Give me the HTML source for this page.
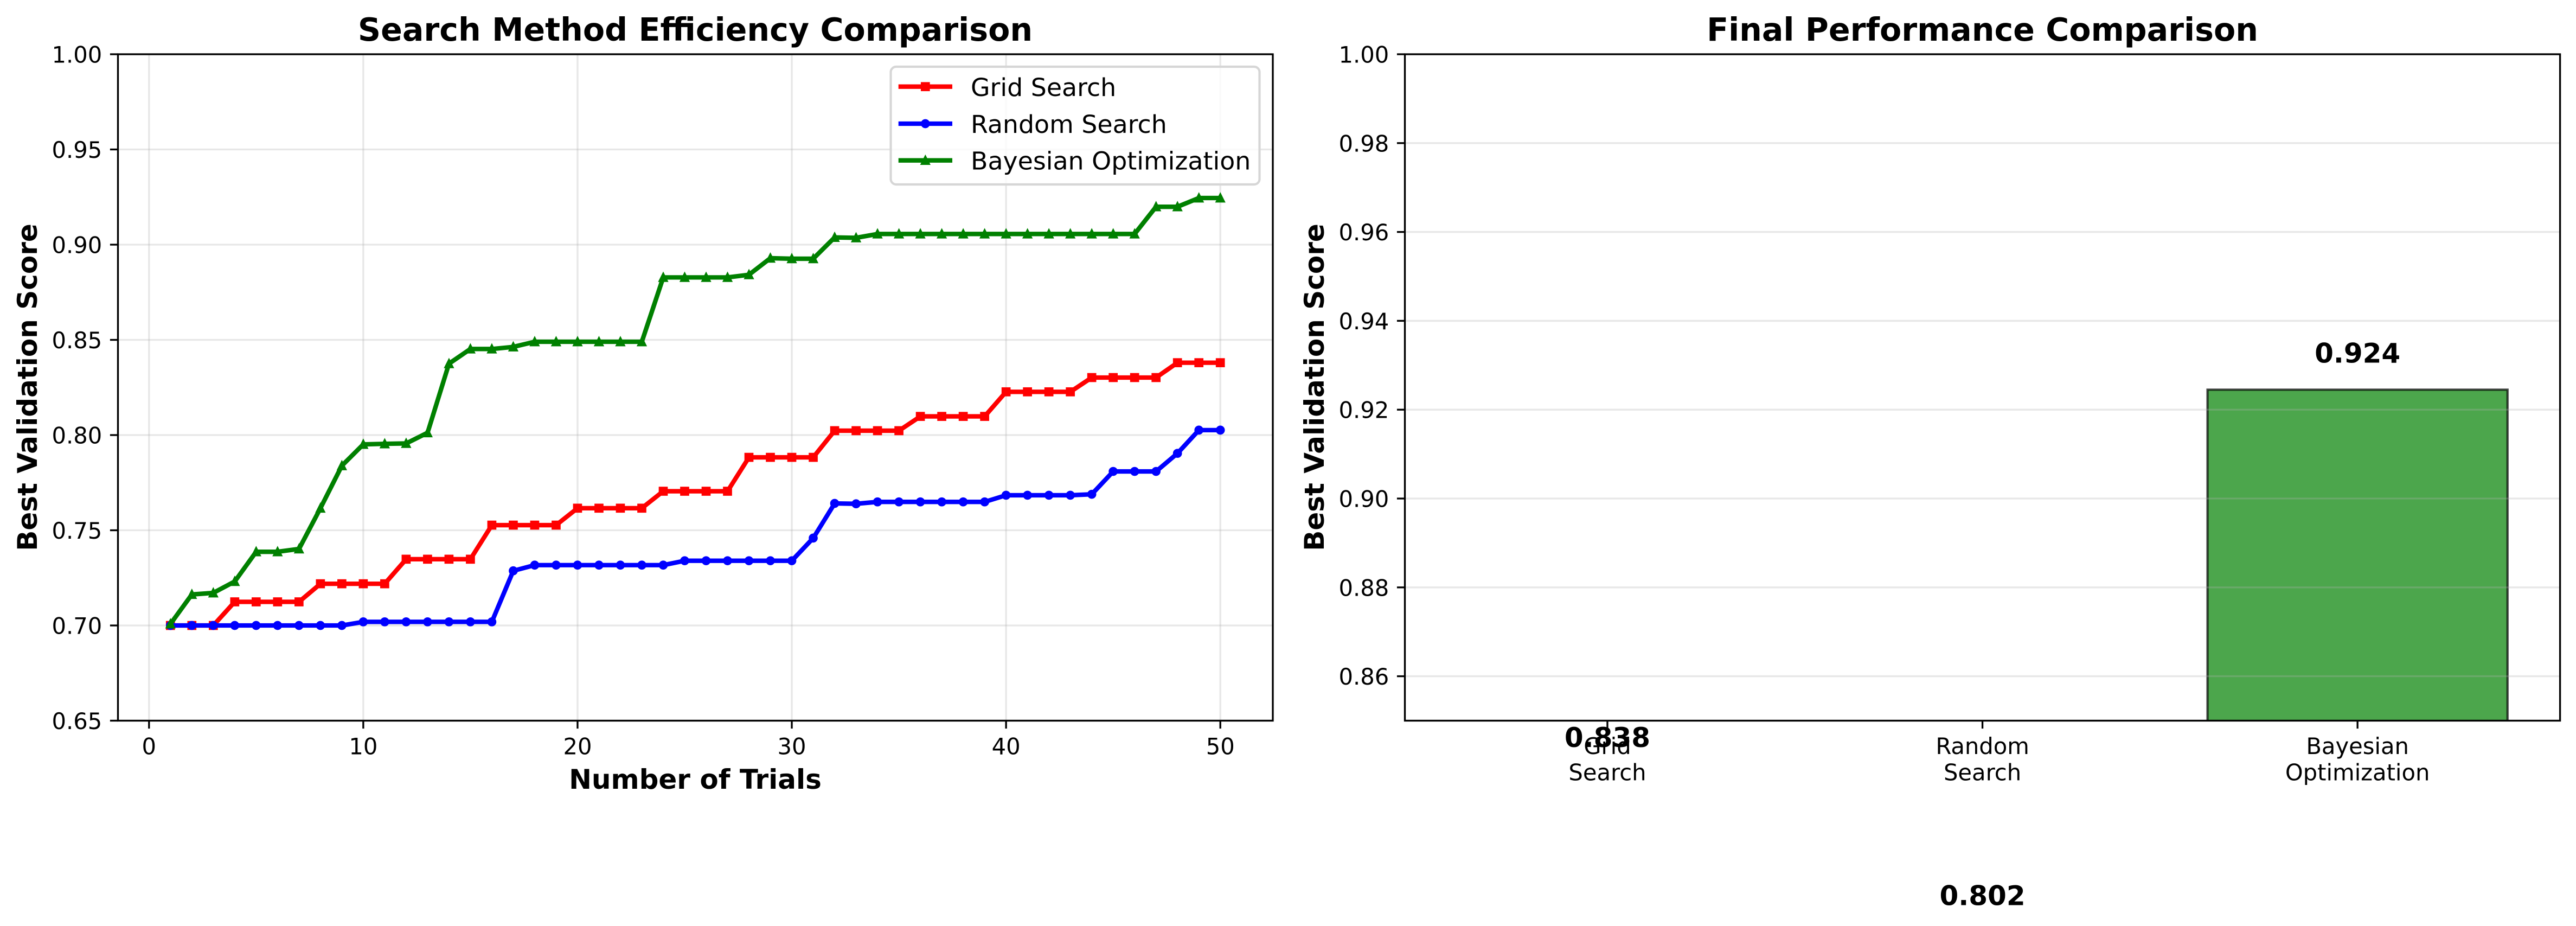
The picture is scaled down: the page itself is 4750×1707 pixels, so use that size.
<!DOCTYPE html>
<html lang="en">
<head>
<meta charset="utf-8">
<title>Search Method Comparison</title>
<style>
html,body{margin:0;padding:0;background:#fff;width:4750px;height:1707px;overflow:hidden}
svg{display:block}
text{font-family:"DejaVu Sans","Liberation Sans",sans-serif;fill:#000}
.tick{font-size:41.67px}
.title{font-size:58.6px;font-weight:bold;text-anchor:middle}
.axis{font-size:50px;font-weight:bold;text-anchor:middle}
.legend-text{font-size:45.83px}
.value{font-size:50px;font-weight:bold;text-anchor:middle}
</style>
</head>
<body>
<svg id="chart" xmlns="http://www.w3.org/2000/svg" width="4750" height="1707" viewBox="0 0 4750 1707">
  <rect x="0" y="0" width="4750" height="1707" fill="#fff"/>
  <defs>
    <clipPath id="clip-left"><rect x="217.5" y="100" width="2129.5" height="1228.5"/></clipPath>
    <clipPath id="clip-right"><rect x="2590.5" y="100" width="2130.1" height="1228.5"/></clipPath>
  </defs>
  <g id="left-grid"></g>
  <g id="left-series" clip-path="url(#clip-left)"></g>
  <g id="left-axes"></g>
  <g id="right-bars" clip-path="url(#clip-right)"></g>
  <g id="right-grid"></g>
  <g id="right-axes"></g>
  <g id="legend">
    <rect x="1642.5" y="123" width="680" height="217" rx="10" ry="10" fill="#fff" fill-opacity="0.8" stroke="#d6d6d6" stroke-width="4.17"/>
    <text class="legend-text" x="1790" y="177">Grid Search</text>
    <text class="legend-text" x="1790" y="245">Random Search</text>
    <text class="legend-text" x="1790" y="312.5">Bayesian Optimization</text>
  </g>
  <text class="title" x="1282" y="75">Search Method Efficiency Comparison</text>
  <text class="axis" x="1282" y="1454">Number of Trials</text>
  <text class="axis" transform="translate(68,714) rotate(-90)">Best Validation Score</text>
  <text class="title" x="3655.5" y="75">Final Performance Comparison</text>
  <text class="axis" transform="translate(2441,714) rotate(-90)">Best Validation Score</text>
  <g id="value-labels"></g>
</svg>
<script>
const trials = [1,2,3,4,5,6,7,8,9,10,11,12,13,14,15,16,17,18,19,20,21,22,23,24,25,26,27,28,29,30,31,32,33,34,35,36,37,38,39,40,41,42,43,44,45,46,47,48,49,50];
const gridScores = [0.7,0.7,0.7,0.7124,0.7124,0.7124,0.7124,0.7219,0.7219,0.7219,0.7219,0.7348,0.7348,0.7348,0.7348,0.7527,0.7527,0.7527,0.7527,0.7616,0.7616,0.7616,0.7616,0.7705,0.7705,0.7705,0.7705,0.7883,0.7883,0.7883,0.7883,0.8023,0.8023,0.8023,0.8023,0.8098,0.8098,0.8098,0.8098,0.8227,0.8227,0.8227,0.8227,0.8302,0.8302,0.8302,0.8302,0.838,0.838,0.838];
const randomScores = [0.7,0.7,0.7,0.7,0.7,0.7,0.7,0.7,0.7,0.7019,0.7019,0.7019,0.7019,0.7019,0.7019,0.7019,0.7287,0.7317,0.7317,0.7317,0.7317,0.7317,0.7317,0.7317,0.734,0.734,0.734,0.734,0.734,0.734,0.7459,0.7641,0.7639,0.7649,0.7649,0.7649,0.7649,0.7649,0.7649,0.7684,0.7684,0.7684,0.7684,0.7689,0.7809,0.7809,0.7809,0.7904,0.8026,0.8026];
const bayesScores = [0.7008,0.7163,0.7171,0.7231,0.7387,0.7387,0.7402,0.7616,0.7839,0.7951,0.7954,0.7956,0.8012,0.8375,0.8452,0.8452,0.8463,0.849,0.849,0.849,0.849,0.849,0.849,0.8828,0.8828,0.8828,0.8828,0.8842,0.8929,0.8926,0.8926,0.9038,0.9036,0.9056,0.9056,0.9056,0.9056,0.9056,0.9056,0.9056,0.9056,0.9056,0.9056,0.9056,0.9056,0.9056,0.9199,0.9199,0.9245,0.9245];
const xTicks = [0,10,20,30,40,50];
const leftYTicks = [0.65,0.70,0.75,0.80,0.85,0.90,0.95,1.00];
const rightYTicks = [0.86,0.88,0.90,0.92,0.94,0.96,0.98,1.00];
const methodLines = [["Grid","Search"],["Random","Search"],["Bayesian","Optimization"]];
const finalScores = [0.838,0.8024,0.9245];
const finalLabels = ["0.838","0.802","0.924"];

const NS = 'http://www.w3.org/2000/svg';
const AX = {top:100,bottom:1328.5,lLeft:217.5,lRight:2347,rLeft:2590.5,rRight:4720.6};
const xL = v => AX.lLeft + (v + 1.45) / 53.9 * (AX.lRight - AX.lLeft);
const yL = v => AX.bottom - (v - 0.65) / 0.35 * (AX.bottom - AX.top);
const xR = v => AX.rLeft + (v + 0.54) / 3.08 * (AX.rRight - AX.rLeft);
const yR = v => AX.bottom - (v - 0.85) / 0.15 * (AX.bottom - AX.top);

function mk(tag, parent, props) {
  const el = document.createElementNS(NS, tag);
  for (const k in props) el.setAttribute(k, props[k]);
  parent.appendChild(el);
  return el;
}
function gridLine(parent, x1, y1, x2, y2, name) {
  const el = mk('line', parent, {x1, y1, x2, y2, stroke:'#b0b0b0', 'stroke-opacity':0.3, 'stroke-width':3.33});
  
  
}
function tickMark(parent, x1, y1, x2, y2, name) {
  const el = mk('line', parent, {x1, y1, x2, y2, stroke:'#000', 'stroke-width':3.33});
  
  
}
function tickText(parent, x, y, anchor, str, name) {
  const el = mk('text', parent, {x, y, 'text-anchor':anchor, class:'tick'});
  el.textContent = str;
  
  
}
function frame(parent, l, r, name) {
  const el = mk('rect', parent, {x:l, y:AX.top, width:r-l, height:AX.bottom-AX.top, fill:'none', stroke:'#000', 'stroke-width':3.33});
  
  
}
function marker(parent, kind, x, y, color) {
  const h = 6.25;
  let el;
  if (kind === 's') {
    el = mk('rect', parent, {x:x-h, y:y-h, width:2*h, height:2*h, fill:color, stroke:color, 'stroke-width':4.17});
  } else if (kind === 'o') {
    el = mk('circle', parent, {cx:x, cy:y, r:h, fill:color, stroke:color, 'stroke-width':4.17});
  } else {
    el = mk('polygon', parent, {points:(x)+','+(y-h)+' '+(x-h)+','+(y+h)+' '+(x+h)+','+(y+h), fill:color, stroke:color, 'stroke-width':4.17, 'stroke-linejoin':'miter', 'stroke-miterlimit':4});
  }
  return el;
}

/* left chart */
const leftGrid = document.getElementById('left-grid');
const leftSeries = document.getElementById('left-series');
const leftAxes = document.getElementById('left-axes');
xTicks.forEach(t => {
  gridLine(leftGrid, xL(t), AX.top, xL(t), AX.bottom, 'x-gridline');
  tickMark(leftAxes, xL(t), AX.bottom, xL(t), AX.bottom + 14.6, 'x-tick');
  tickText(leftAxes, xL(t), 1390.5, 'middle', String(t), 'x-tick-label');
});
leftYTicks.forEach(t => {
  gridLine(leftGrid, AX.lLeft, yL(t), AX.lRight, yL(t), 'y-gridline');
  tickMark(leftAxes, AX.lLeft - 14.6, yL(t), AX.lLeft, yL(t), 'y-tick');
  tickText(leftAxes, AX.lLeft - 29.2, yL(t) + 15.5, 'end', t.toFixed(2), 'y-tick-label');
});
frame(leftAxes, AX.lLeft, AX.lRight, 'efficiency-plot-frame');

function drawSeries(values, color, kind, seriesName) {
  const g = mk('g', leftSeries, {});
  
  
  const line = mk('polyline', g, {
    points: values.map((v, i) => xL(trials[i]) + ',' + yL(v)).join(' '),
    fill:'none', stroke:color, 'stroke-width':8.33, 'stroke-linejoin':'round', 'stroke-linecap':'butt'
  });
  
  
  values.forEach((v, i) => {
    const m = marker(g, kind, xL(trials[i]), yL(v), color);
    
    
  });
}
drawSeries(gridScores, '#ff0000', 's', 'grid-search-series');
drawSeries(randomScores, '#0000ff', 'o', 'random-search-series');
drawSeries(bayesScores, '#008000', '^', 'bayesian-optimization-series');

/* legend handles */
const legend = document.getElementById('legend');
function legendHandle(y, color, kind, name) {
  const l = mk('line', legend, {x1:1656.7, y1:y, x2:1756, y2:y, stroke:color, 'stroke-width':8.33});
  
  
  const m = marker(legend, kind, 1706.3, y, color);
  
  
}
legendHandle(159.7, '#ff0000', 's', 'legend-grid-search');
legendHandle(228, '#0000ff', 'o', 'legend-random-search');
legendHandle(295.7, '#008000', '^', 'legend-bayesian-optimization');

/* right chart */
const rightBars = document.getElementById('right-bars');
const rightGrid = document.getElementById('right-grid');
const rightAxes = document.getElementById('right-axes');
const valueLabels = document.getElementById('value-labels');
const barColors = ['#ff0000','#0000ff','#008000'];
finalScores.forEach((v, i) => {
  const w = xR(0.4) - xR(0);
  const top = yR(v);
  const bar = mk('rect', rightBars, {
    x:xR(i) - w, y:top, width:2*w, height:Math.max(0, AX.bottom + 6 - top),
    fill:barColors[i], 'fill-opacity':0.7, stroke:'#000', 'stroke-opacity':0.7, 'stroke-width':4.17
  });
  
  
  if (top > AX.bottom) bar.setAttribute('visibility', 'hidden');
  tickMark(rightAxes, xR(i), AX.bottom, xR(i), AX.bottom + 14.6, 'category-tick');
  methodLines[i].forEach((line, j) => {
    tickText(rightAxes, xR(i), 1390 + j * 48.5, 'middle', line, 'category-label');
  });
  const lab = mk('text', valueLabels, {x:xR(i), y:yR(v + 0.005) - 9, class:'value'});
  lab.textContent = finalLabels[i];
  
  
});
rightYTicks.forEach(t => {
  gridLine(rightGrid, AX.rLeft, yR(t), AX.rRight, yR(t), 'y-gridline');
  tickMark(rightAxes, AX.rLeft - 14.6, yR(t), AX.rLeft, yR(t), 'y-tick');
  tickText(rightAxes, AX.rLeft - 29.2, yR(t) + 15.5, 'end', t.toFixed(2), 'y-tick-label');
});
frame(rightAxes, AX.rLeft, AX.rRight, 'final-performance-plot-frame');
</script>
</body>
</html>
